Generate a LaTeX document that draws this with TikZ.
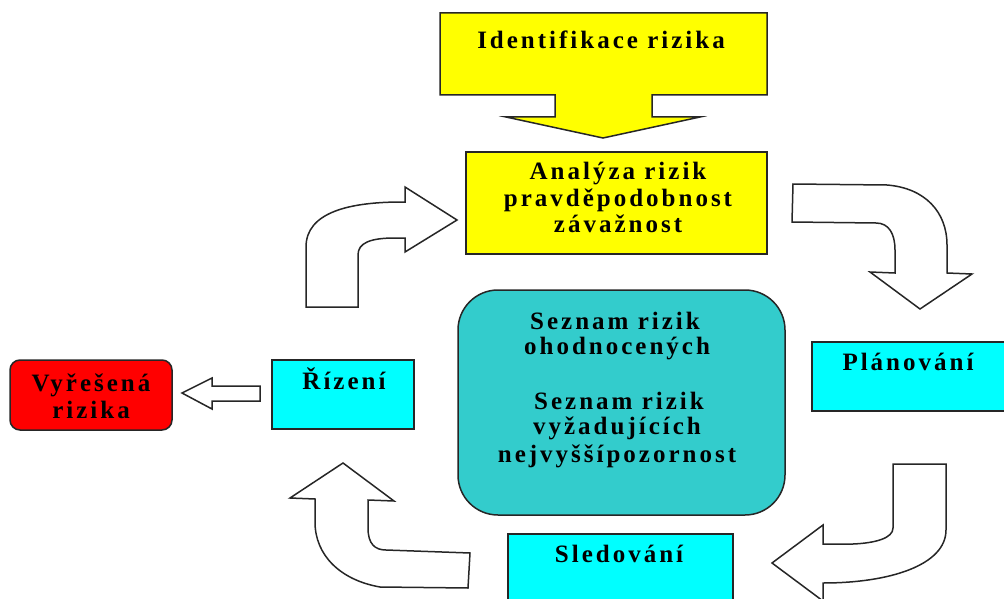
\documentclass[tikz,border=0pt]{standalone}
\usepackage{fontspec}
\setmainfont{Liberation Serif}
\newfontfamily\lsfont[LetterSpace=12]{Liberation Serif}
\definecolor{tealbox}{RGB}{51,204,204}
\definecolor{cyanbox}{RGB}{0,255,255}
\definecolor{yellowbox}{RGB}{255,255,0}
\definecolor{redbox}{RGB}{255,0,0}
\begin{document}
\begin{tikzpicture}[x=1pt,y=-1pt,
  shp/.style={draw=black!85, line width=1.5pt, line join=miter},
  boxnode/.style={shp, inner sep=0pt, outer sep=0pt},
  txt/.style={font=\lsfont\bfseries\fontsize{25}{28}\selectfont, inner sep=0pt, anchor=base}]
\useasboundingbox (0,0) rectangle (1004,599);
\clip (0,0) rectangle (1004,599);

% Identifikace callout
\draw[shp, fill=yellowbox] (440,13) -- (767,13) -- (767,95) -- (652,95) -- (652,117) -- (700,117)
  -- (603,138) -- (506,117) -- (555,117) -- (555,95) -- (440,95) -- cycle;
\node[txt] (ident) at (601,49) {Identifikace rizika};

% Analyza box
\node[boxnode, fill=yellowbox, minimum width=301, minimum height=102] (analyza) at (616.5,203) {};
\node[txt] (an1) at (618,179) {Analýza rizik};
\node[txt] (an2) at (618,206) {pravděpodobnost};
\node[txt] (an3) at (618,232) {závažnost};

% Center box
\node[boxnode, fill=tealbox, rounded corners=40pt, minimum width=327, minimum height=225] (seznam) at (621.5,402.5) {};
\node[txt] (s1) at (615,329) {Seznam rizik};
\node[txt] (s2) at (617,354) {ohodnocených};
\node[txt] (s3) at (619,409) {Seznam rizik};
\node[txt] (s4) at (617,434) {vyžadujících};
\node[txt] (s5) at (617,462) {nejvyššípozornost};

% Planovani
\node[boxnode, fill=cyanbox, minimum width=198, minimum height=69] (planovani) at (911,376.5) {};
\node[txt] (pl) at (908,370) {Plánování};

% Rizeni
\node[boxnode, fill=cyanbox, minimum width=142, minimum height=69] (rizeni) at (343,394.5) {};
\node[txt] (ri) at (344,389) {Řízení};

% Sledovani
\node[boxnode, fill=cyanbox, minimum width=225, minimum height=76] (sledovani) at (620.5,572) {};
\node[txt] (sl) at (619,562) {Sledování};

% Vyresena
\node[boxnode, fill=redbox, rounded corners=10pt, minimum width=162, minimum height=70] (vyresena) at (91,395) {};
\node[txt] (vy1) at (91,391) {Vyřešená};
\node[txt] (vy2) at (91,418) {rizika};

% Left block arrow
\draw[shp, fill=white] (182,393) -- (212,378) -- (212,386) -- (260,386) -- (260,401) -- (212,401) -- (212,409) -- cycle;

% Curved arrow top-left
\draw[shp, fill=white] (306,307) -- (306,247) .. controls (306,212) and (350,202) .. (402,202) -- (405,202)
  -- (405,187) -- (457,220) -- (405,252) -- (405,238) -- (395,238)
  .. controls (370,238) and (358,243) .. (358,255) -- (358,307) -- cycle;

% Curved arrow top-right
\draw[shp, fill=white] (793,184) -- (887,185) .. controls (925,188) and (947,212) .. (947,245) -- (947,273)
  -- (972,274) -- (920,309) -- (870,272) -- (895,273) -- (895,250)
  .. controls (895,234) and (889,223) .. (876,223) -- (792,222) -- cycle;

% Curved arrow bottom-right
\draw[shp, fill=white] (893,464) -- (946,464) -- (946,530) .. controls (946,565) and (890,583) .. (823,583)
  -- (823,601) -- (772,563) -- (823,525) -- (823,544) -- (853,544)
  .. controls (876,543) and (893,538) .. (893,528) -- cycle;

% Curved arrow bottom-left
\draw[shp, fill=white] (343,463) -- (394,501) -- (368,500) -- (368,528)
  .. controls (368,544) and (375,550) .. (386,550) -- (470,553) -- (468,588) -- (380,587)
  .. controls (340,580) and (315,555) .. (315,522) -- (315,499) -- (290,498) -- cycle;
\end{tikzpicture}
\end{document}
